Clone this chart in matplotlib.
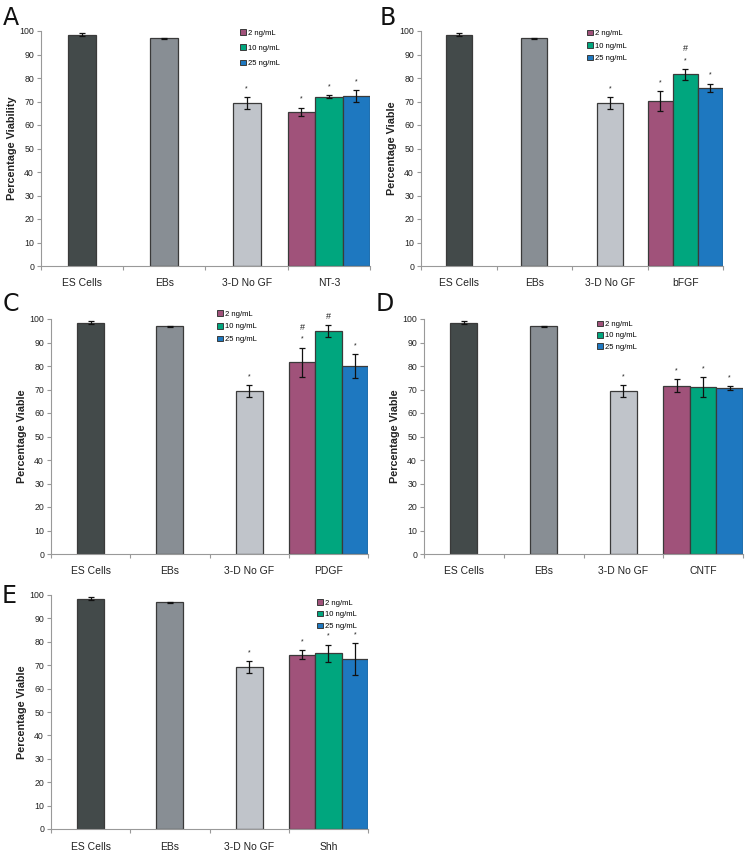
import numpy as np
import matplotlib
matplotlib.use("Agg")
import matplotlib.pyplot as plt
from matplotlib.patches import Patch

plt.rcParams["font.family"] = ["Liberation Sans", "DejaVu Sans"]

# control groups, same in every panel
controls = ["ES Cells", "EBs", "3-D No GF"]
control_vals = [98.5, 96.9, 69.3]
control_err = [0.8, 0.3, 2.5]
control_marks = ["", "", "*"]

doses = ["2 ng/mL", "10 ng/mL", "25 ng/mL"]

panel_letters = ["A", "B", "C", "D", "E"]
factors = ["NT-3", "bFGF", "PDGF", "CNTF", "Shh"]
ylabels = ["Percentage Viability", "Percentage Viable", "Percentage Viable",
           "Percentage Viable", "Percentage Viable"]

nt3_vals = [65.6, 72.1, 72.3]
nt3_err = [1.7, 0.5, 2.4]
nt3_marks = ["*", "*", "*"]

bfgf_vals = [70.2, 81.5, 75.7]
bfgf_err = [4.1, 2.3, 1.8]
bfgf_marks = ["*", "#*", "*"]

pdgf_vals = [81.6, 95.0, 80.0]
pdgf_err = [6.1, 2.6, 4.9]
pdgf_marks = ["#*", "#", "*"]

cntf_vals = [71.7, 70.9, 70.7]
cntf_err = [2.6, 4.3, 0.8]
cntf_marks = ["*", "*", "*"]

shh_vals = [74.5, 75.1, 72.6]
shh_err = [1.8, 3.7, 6.8]
shh_marks = ["*", "*", "*"]

factor_vals = [nt3_vals, bfgf_vals, pdgf_vals, cntf_vals, shh_vals]
factor_err = [nt3_err, bfgf_err, pdgf_err, cntf_err, shh_err]
factor_marks = [nt3_marks, bfgf_marks, pdgf_marks, cntf_marks, shh_marks]

control_colors = ["#434a4a", "#888e94", "#c0c4ca"]
dose_colors = ["#a0527a", "#00a67e", "#1e78c0"]

# axes boxes in pixels: left, top, right, bottom
W, H = 750, 858
boxes = [(41, 31, 370, 266), (421, 31, 723, 266),
         (51, 319, 368, 554), (424, 319, 743, 554),
         (51, 595, 368, 829)]
legend_pos = [(0.605, 1.007), (0.55, 1.006), (0.525, 1.037), (0.543, 0.993), (0.84, 0.982)]
legend_gap = [1.0, 0.68, 0.68, 0.5, 0.55]
letter_pos = [(3, 25), (380, 25), (3, 311), (376, 311), (2, 603)]

fig = plt.figure(figsize=(W / 100, H / 100), dpi=100)


def add_mark(ax, x, top, mark):
    if "*" in mark:
        ax.text(x, top + 3.0, "*", ha="center", va="baseline", fontsize=5, color="#222")
        if "#" in mark:
            ax.text(x, top + 7.6, "#", ha="center", va="baseline", fontsize=6.5, color="#222")
    elif "#" in mark:
        ax.text(x, top + 2.3, "#", ha="center", va="baseline", fontsize=6.5, color="#222")


for i in range(5):
    l, t, r, b = boxes[i]
    ax = fig.add_axes([l / W, 1 - b / H, (r - l) / W, (b - t) / H])

    ebar = dict(ecolor="#111", elinewidth=0.9, capsize=2.2, capthick=0.9)
    ax.bar(np.arange(3), control_vals, width=0.34, color=control_colors,
           edgecolor="#3a3a3a", linewidth=0.9, yerr=control_err, error_kw=ebar, zorder=2)
    for j in range(3):
        add_mark(ax, j, control_vals[j] + control_err[j], control_marks[j])

    xs = 3 + (np.arange(3) - 1) / 3
    ax.bar(xs, factor_vals[i], width=1 / 3, color=dose_colors,
           edgecolor="#3a3a3a", linewidth=0.9, yerr=factor_err[i], error_kw=ebar, zorder=2)
    for j in range(3):
        add_mark(ax, xs[j], factor_vals[i][j] + factor_err[i][j], factor_marks[i][j])

    ax.set_xlim(-0.5, 3.5)
    ax.set_ylim(0, 100)
    ax.set_yticks(range(0, 101, 10))
    ax.set_xticks([-0.5, 0.5, 1.5, 2.5, 3.5])
    ax.set_xticklabels([])
    ax.set_xticks(range(4), minor=True)
    ax.set_xticklabels(controls + [factors[i]], minor=True)
    ax.tick_params(axis="x", which="minor", length=0, pad=9, labelsize=7.5, labelcolor="#222")
    ax.tick_params(axis="x", which="major", length=3, color="#999", width=0.8)
    ax.tick_params(axis="y", length=3, color="#999", width=0.8, labelsize=6.3, labelcolor="#222", pad=2)
    for s in ["top", "right"]:
        ax.spines[s].set_visible(False)
    for s in ["left", "bottom"]:
        ax.spines[s].set_color("#999")
        ax.spines[s].set_linewidth(0.8)
    ax.set_ylabel(ylabels[i], fontsize=7.8, fontweight="bold", color="#222", labelpad=2)

    handles = [Patch(facecolor=dose_colors[k], edgecolor="#3a3a3a", linewidth=0.7) for k in range(3)]
    ax.legend(handles, doses, loc="upper left", bbox_to_anchor=legend_pos[i], frameon=False,
              fontsize=5.5, handlelength=0.75, handleheight=0.75, handletextpad=0.25,
              labelspacing=legend_gap[i], borderpad=0, borderaxespad=0)

    lx, ly = letter_pos[i]
    fig.text(lx / W, 1 - ly / H, panel_letters[i], fontsize=17, family="DejaVu Sans",
             ha="left", va="baseline", color="#111")

fig.savefig("out.png", dpi=100)
